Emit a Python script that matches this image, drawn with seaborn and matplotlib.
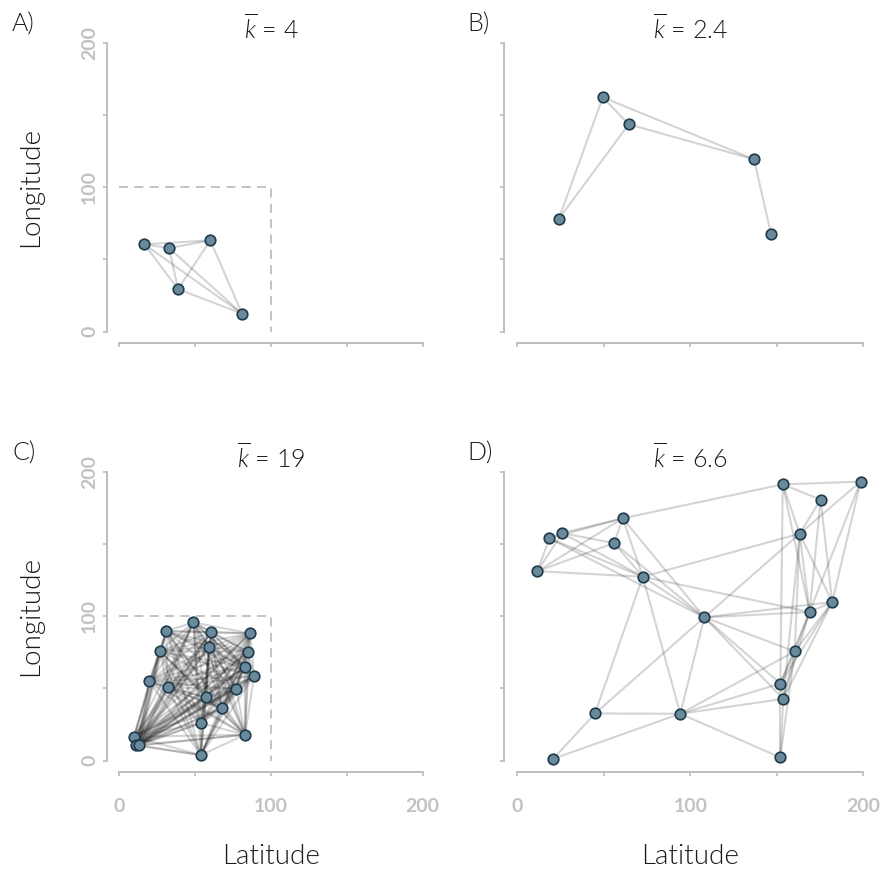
import itertools
import matplotlib
matplotlib.use("Agg")
import matplotlib.pyplot as plt
from matplotlib.collections import LineCollection
import seaborn as sns

# ---- network A: 5 sites inside the 100 x 100 window, fully linked ----
a_lat = [16.5, 32.8, 60.0, 38.7, 80.9]
a_lon = [60.5, 57.9, 63.2, 29.5, 12.5]
a_edges = [(0, 1), (0, 2), (0, 3), (0, 4), (1, 2),
           (1, 3), (1, 4), (2, 3), (2, 4), (3, 4)]
a_kbar = "4"

# ---- network B: 5 sites spread over the 200 x 200 area ----
b_lat = [49.4, 64.4, 136.8, 23.9, 146.6]
b_lon = [162.2, 143.5, 119.3, 78.0, 67.8]
b_edges = [(0, 1), (0, 2), (1, 2), (0, 3), (1, 3), (2, 4)]
b_kbar = "2.4"

# ---- network C: 20 sites inside the 100 x 100 window ----
c_lat = [48.8, 31.0, 60.5, 86.2, 59.1, 26.6, 84.7, 82.7, 88.8, 19.8,
         31.9, 77.1, 57.2, 67.9, 53.9, 82.9, 9.7, 11.2, 13.0, 53.7]
c_lon = [95.7, 89.7, 89.0, 88.1, 78.7, 75.9, 75.4, 64.8, 58.6, 54.9,
         50.7, 49.8, 43.8, 36.2, 26.1, 18.0, 16.6, 10.6, 10.6, 3.9]
# every pair of sites is linked
c_edges = list(itertools.combinations(range(len(c_lat)), 2))
c_kbar = "19"

# ---- network D: 20 sites spread over the 200 x 200 area ----
d_lat = [18.5, 60.9, 25.9, 55.9, 11.6, 72.5, 153.4, 198.4, 175.3, 163.2,
         182.0, 168.9, 108.1, 160.3, 152.0, 153.7, 44.9, 94.2, 20.8, 152.0]
d_lon = [153.9, 167.7, 157.5, 150.6, 131.1, 127.3, 191.2, 193.1, 180.6, 157.1,
         109.8, 102.9, 99.2, 75.6, 53.4, 42.8, 32.7, 32.5, 1.4, 2.3]
d_edges = [(0, 1), (0, 2), (0, 4), (0, 5), (0, 12), (1, 2), (1, 3), (1, 4),
           (1, 5), (1, 6), (1, 12), (2, 3), (2, 4), (2, 5), (3, 4), (3, 5),
           (3, 12), (4, 5), (5, 9), (5, 11), (5, 12), (5, 16), (5, 17),
           (12, 16), (12, 17), (12, 9), (12, 11), (12, 10), (12, 13), (12, 14),
           (12, 15), (16, 17), (16, 18), (17, 18), (17, 13), (17, 14), (17, 15),
           (17, 19), (19, 14), (19, 15), (19, 13), (13, 11), (13, 10), (13, 9),
           (13, 14), (13, 15), (6, 7), (6, 8), (6, 9), (6, 11), (6, 14),
           (7, 9), (7, 10), (7, 11), (8, 9), (8, 10), (8, 11), (9, 10),
           (9, 11), (10, 11), (10, 14), (10, 15), (11, 14), (11, 15), (14, 15),
           (9, 15)]
d_kbar = "6.6"

TICKS = [0, 50, 100, 150, 200]
TICK_LABELS = ["0", "", "100", "", "200"]

GREY = "#BEBEBE"
LABEL_GREY = "#C2C2C2"
TEXT = "#1A1A1A"
NODE_FILL = "#6A8A9C"
NODE_EDGE = "#1C3A4C"
LIGHT = 300

sns.set_theme(style="white")
plt.rcParams["font.family"] = ["Lato", "DejaVu Sans"]
plt.rcParams["mathtext.fontset"] = "custom"
plt.rcParams["mathtext.it"] = "Lato:italic:weight=300"
plt.rcParams["mathtext.rm"] = "Lato:weight=300"

W, H = 885, 869
fig = plt.figure(figsize=(W / 100, H / 100), dpi=100)


def add_axes_px(left, top, right, bottom):
    return fig.add_axes([left / W, 1 - bottom / H, (right - left) / W, (bottom - top) / H])


panels = [
    dict(letter="A)", kbar=a_kbar, lat=a_lat, lon=a_lon, edges=a_edges,
         box=(107.2, 31.1, 434.8, 343.3), first_col=True, last_row=False, window=True,
         letter_xy=(12, 31.5)),
    dict(letter="B)", kbar=b_kbar, lat=b_lat, lon=b_lon, edges=b_edges,
         box=(503.5, 31.1, 877.2, 343.3), first_col=False, last_row=False, window=False,
         letter_xy=(467, 31.5)),
    dict(letter="C)", kbar=c_kbar, lat=c_lat, lon=c_lon, edges=c_edges,
         box=(107.2, 460.1, 434.8, 772.3), first_col=True, last_row=True, window=True,
         letter_xy=(12, 460.5)),
    dict(letter="D)", kbar=d_kbar, lat=d_lat, lon=d_lon, edges=d_edges,
         box=(503.5, 460.1, 877.2, 772.3), first_col=False, last_row=True, window=False,
         letter_xy=(467, 460.5)),
]

for p in panels:
    left, top, right, bottom = p["box"]
    ax = add_axes_px(left, top, right, bottom)
    ax.set_xlim(-8, 208)
    ax.set_ylim(-8, 208)

    # links between sites
    segs = [[(p["lat"][i], p["lon"][i]), (p["lat"][j], p["lon"][j])] for i, j in p["edges"]]
    ax.add_collection(LineCollection(segs, colors="black", alpha=0.17,
                                     linewidths=1.5, zorder=1))

    # sampling window
    if p["window"]:
        ax.plot([0, 100, 100], [100, 100, 0], color=GREY, lw=1.3,
                ls=(0, (5, 3.5)), zorder=0)

    # sites
    sns.scatterplot(x=p["lat"], y=p["lon"], ax=ax, s=58, color=NODE_FILL,
                    edgecolor=NODE_EDGE, linewidth=1.2, zorder=3, legend=False)

    sns.despine(ax=ax)
    for side in ("left", "bottom"):
        ax.spines[side].set_bounds(0, 200)
        ax.spines[side].set_color(GREY)
        ax.spines[side].set_linewidth(1.4)

    ax.set_xticks(TICKS)
    ax.set_yticks(TICKS)
    ax.set_xticklabels(TICK_LABELS if p["last_row"] else [""] * 5)
    ax.set_yticklabels(TICK_LABELS if p["first_col"] else [""] * 5)
    ax.tick_params(axis="both", which="major", bottom=True, left=True,
                   length=3, width=1.2, color=GREY, labelcolor=LABEL_GREY,
                   labelsize=14, direction="out")
    ax.tick_params(axis="x", pad=15.5)
    ax.tick_params(axis="y", pad=3.5)
    for lab in ax.get_xticklabels():
        lab.set_fontweight("bold")
    for lab in ax.get_yticklabels():
        lab.set_fontweight("bold")
        lab.set_rotation(90)
        lab.set_va("center")
    ax.grid(False)
    ax.set_xlabel("")
    ax.set_ylabel("")

    cx = (left + right) / 2
    fig.text(cx / W, 1 - (top + 8) / H, r"$\overline{k}$ = " + p["kbar"],
             ha="center", va="baseline", fontsize=18, fontweight=LIGHT, color=TEXT)
    lx, ly = p["letter_xy"]
    fig.text(lx / W, 1 - ly / H, p["letter"], ha="left", va="baseline",
             fontsize=18, fontweight=LIGHT, color=TEXT)

    if p["first_col"]:
        ycen = top + (bottom - top) / 2
        fig.text(31 / W, 1 - ycen / H, "Longitude", rotation=90, ha="center",
                 va="center", fontsize=20, fontweight=LIGHT, color=TEXT)
    if p["last_row"]:
        fig.text(cx / W, 1 - 864.5 / H, "Latitude", ha="center", va="baseline",
                 fontsize=20, fontweight=LIGHT, color=TEXT)

fig.savefig("out.png", dpi=100)
